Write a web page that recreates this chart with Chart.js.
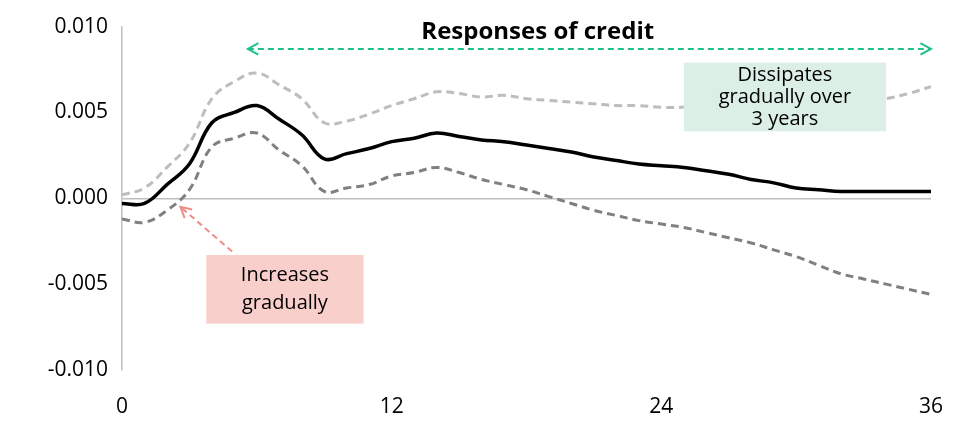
<!DOCTYPE html>
<html><head><meta charset="utf-8">
<script src="https://cdn.jsdelivr.net/npm/chart.js@4"></script>
<style>html,body{margin:0;padding:0;background:#fff}#w{width:967px;height:421px}</style>
</head><body><div id="w"><canvas id="c"></canvas></div>
<script>
const months=[0,1,2,3,4,5,6,7,8,9,10,11,12,13,14,15,16,17,18,19,20,21,22,23,24,25,26,27,28,29,30,31,32,33,34,35,36];
const response=[-0.0003,-0.0003,0.0008,0.0020,0.0044,0.0050,0.0054,0.0046,0.0037,0.0023,0.0026,0.0029,0.0033,0.0035,0.0038,0.0036,0.0034,0.0033,0.0031,0.0029,0.0027,0.0024,0.0022,0.0020,0.0019,0.0018,0.0016,0.0014,0.0011,0.0009,0.0006,0.0005,0.0004,0.0004,0.0004,0.0004,0.0004];
const upper=[0.0002,0.0006,0.0018,0.0032,0.0058,0.0068,0.0073,0.0066,0.0058,0.0044,0.0045,0.0049,0.0054,0.0058,0.0062,0.0061,0.0059,0.0060,0.0058,0.0057,0.0056,0.0055,0.0054,0.0054,0.0053,0.0053,0.0053,0.0053,0.0053,0.0053,0.0053,0.0054,0.0055,0.0056,0.0058,0.0061,0.0065];
const lower=[-0.0012,-0.0014,-0.0007,0.0005,0.0030,0.0035,0.0038,0.0028,0.0019,0.0004,0.0006,0.0008,0.0013,0.0015,0.0018,0.0015,0.0011,0.0008,0.0005,0.0001,-0.0003,-0.0007,-0.0010,-0.0013,-0.0015,-0.0017,-0.0020,-0.0023,-0.0026,-0.0030,-0.0034,-0.0039,-0.0044,-0.0047,-0.0050,-0.0053,-0.0056];
const yTicks=[-0.010,-0.005,0.000,0.005,0.010];
const title="Responses of credit";
const noteRed=["Increases","gradually"];
const noteGreen=["Dissipates","gradually over","3 years"];
const F="'Open Sans', sans-serif";
const pts=a=>months.map((m,i)=>({x:m,y:a[i]}));
function arrow(ctx,x1,y1,x2,y2,col,both){
  ctx.save();ctx.strokeStyle=col;ctx.lineWidth=2;ctx.setLineDash([6,4]);
  ctx.beginPath();ctx.moveTo(x1,y1);ctx.lineTo(x2,y2);ctx.stroke();ctx.setLineDash([]);
  const head=(xa,ya,xb,yb)=>{const a=Math.atan2(yb-ya,xb-xa);ctx.beginPath();
    ctx.moveTo(xb-12*Math.cos(a-0.5),yb-12*Math.sin(a-0.5));ctx.lineTo(xb,yb);
    ctx.lineTo(xb-12*Math.cos(a+0.5),yb-12*Math.sin(a+0.5));ctx.stroke();};
  head(x1,y1,x2,y2);if(both)head(x2,y2,x1,y1);ctx.restore();
}
const notes={id:'notes',afterDatasetsDraw(ch){
  const ctx=ch.ctx,x=ch.scales.x,y=ch.scales.y;
  ctx.save();
  ctx.font="bold 24px "+F;ctx.fillStyle="#000";ctx.textAlign="center";ctx.textBaseline="middle";
  ctx.fillText(title,x.getPixelForValue(18.5),y.getPixelForValue(0.0097));
  let bx=x.getPixelForValue(3.75),by=y.getPixelForValue(-0.0033),bx2=x.getPixelForValue(10.75),by2=y.getPixelForValue(-0.0073);
  ctx.fillStyle="#f9cfcc";ctx.fillRect(bx,by,bx2-bx,by2-by);
  ctx.fillStyle="#000";ctx.font="20px "+F;
  noteRed.forEach((t,i)=>ctx.fillText(t,(bx+bx2)/2,by+20+i*28));
  bx=x.getPixelForValue(25.0);by=y.getPixelForValue(0.0079);bx2=x.getPixelForValue(34.0);by2=y.getPixelForValue(0.0039);
  ctx.fillStyle="#dcefe6";ctx.fillRect(bx,by,bx2-bx,by2-by);
  ctx.fillStyle="#000";
  noteGreen.forEach((t,i)=>ctx.fillText(t,(bx+bx2)/2,by+13+i*22));
  arrow(ctx,x.getPixelForValue(5.6),y.getPixelForValue(0.0087),x.getPixelForValue(36),y.getPixelForValue(0.0087),"#1fc08f",true);
  arrow(ctx,x.getPixelForValue(4.9),y.getPixelForValue(-0.0031),x.getPixelForValue(2.6),y.getPixelForValue(-0.0005),"#f08c86",false);
  ctx.restore();
}};
new Chart(document.getElementById('c'),{type:'line',
 data:{datasets:[
  {data:pts(upper),borderColor:'#bdbdbd',borderWidth:3,borderDash:[8,5],pointRadius:0,tension:0.4},
  {data:pts(lower),borderColor:'#808080',borderWidth:3,borderDash:[8,5],pointRadius:0,tension:0.4},
  {data:pts(response),borderColor:'#000',borderWidth:3.5,pointRadius:0,tension:0.4}]},
 options:{responsive:true,maintainAspectRatio:false,animation:false,
  layout:{padding:{left:0,right:34,top:2,bottom:0}},
  plugins:{legend:{display:false},tooltip:{enabled:false}},
  scales:{
   x:{type:'linear',min:0,max:36,grid:{display:false,drawTicks:false},border:{display:false},
      ticks:{stepSize:12,color:'#000',font:{size:21,family:F},padding:24},
      afterFit:s=>{s.height=51;}},
   y:{min:-0.01,max:0.01,afterBuildTicks:s=>{s.ticks=yTicks.map(v=>({value:v}));},
      grid:{drawOnChartArea:true,drawTicks:false,color:c=>c.tick&&c.tick.value===0?'#bfbfbf':'transparent',lineWidth:1.5},
      border:{display:true,color:'#bfbfbf',width:1.5},
      ticks:{color:'#000',font:{size:21,family:F},padding:14,callback:v=>v.toFixed(3)},
      afterFit:s=>{s.width=122;}}
  }},
 plugins:[notes]});
</script></body></html>
